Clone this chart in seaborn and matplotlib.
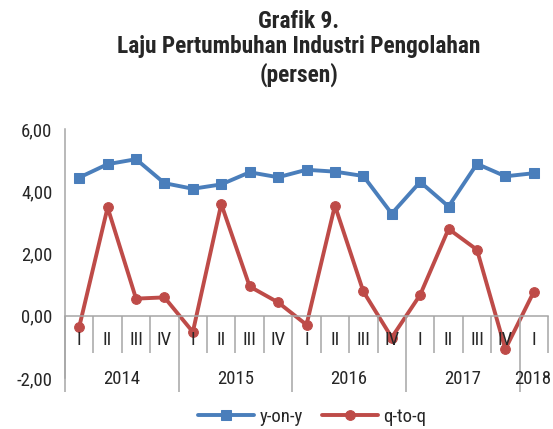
import numpy as np
import pandas as pd
import seaborn as sns
import matplotlib.pyplot as plt
from matplotlib import font_manager

# Data
quarters = ["I", "II", "III", "IV"] * 4 + ["I"]
years = ["2014", "2015", "2016", "2017", "2018"]
year_centers = [1.5, 5.5, 9.5, 13.5, 15.95]
yoy = [4.44, 4.87, 5.03, 4.26, 4.08, 4.22, 4.61, 4.45, 4.69, 4.63, 4.49, 3.28,
       4.30, 3.51, 4.88, 4.48, 4.58]
qtq = [-0.36, 3.48, 0.55, 0.59, -0.52, 3.59, 0.94, 0.43, -0.29, 3.54, 0.78, -0.70,
       0.67, 2.79, 2.12, -1.07, 0.77]

sns.set_style("white")
names = {f.name for f in font_manager.fontManager.ttflist}
narrow = [n for n in ["Liberation Sans Narrow", "Arial Narrow", "Roboto Condensed",
                      "Noto Sans Condensed", "Open Sans Condensed"] if n in names]
if narrow:
    fam, fs, fs_t = narrow[0], 13.5, 16.8
else:
    fam, fs, fs_t = "Liberation Sans", 12, 14
plt.rcParams["font.family"] = [fam, "DejaVu Sans"]

pos = np.arange(len(yoy))
df = pd.DataFrame({"pos": pos, "y-on-y": yoy, "q-to-q": qtq})

fig = plt.figure(figsize=(5.53, 4.29), dpi=100)
ax = fig.add_axes([65 / 553, 51 / 429, 483 / 553, 249 / 429])

blue = "#4A7EBB"
red = "#BE4B48"
sns.lineplot(data=df, x="pos", y="y-on-y", ax=ax, color=blue, lw=2.8,
             marker="s", markersize=7, markeredgecolor=blue, label="y-on-y")
sns.lineplot(data=df, x="pos", y="q-to-q", ax=ax, color=red, lw=2.8,
             marker="o", markersize=7, markeredgecolor=red, label="q-to-q")

ax.set_xlim(-0.5, 16.5)
ax.set_ylim(-2, 6)
ax.set_yticks([-2, 0, 2, 4, 6])
ax.set_yticklabels(["-2,00", "0,00", "2,00", "4,00", "6,00"], fontsize=fs, color="#262626")
ax.tick_params(axis="y", length=5, width=1.1, color="#A0A0A0", direction="out", pad=4)
ax.set_xticks([])
ax.set_xlabel("")
ax.set_ylabel("")

grey = "#A6A6A6"
for s in ["top", "right"]:
    ax.spines[s].set_visible(False)
ax.spines["bottom"].set_position(("data", 0))
ax.spines["bottom"].set_color(grey)
ax.spines["bottom"].set_linewidth(1.1)
ax.spines["left"].set_color(grey)
ax.spines["left"].set_linewidth(1.1)

# category grid lines
qlines = ax.vlines([k + 0.5 for k in range(16) if (k + 1) % 4 != 0] + [16.5], -1.19, 0,
                   colors=grey, lw=1.1)
qlines.set_clip_on(False)
ylines = ax.vlines([-0.5, 3.5, 7.5, 11.5, 15.5], -2.45, 0, colors=grey, lw=1.1)
ylines.set_clip_on(False)

for p, q in zip(pos, quarters):
    ax.text(p, -0.77, q, ha="center", va="center", fontsize=fs, color="#262626")
for c, y in zip(year_centers, years):
    ax.text(c, -2.03, y, ha="center", va="center", fontsize=fs, color="#262626")

ax.get_legend().remove()
h, l = ax.get_legend_handles_labels()
fig.legend(h, l, loc="center", bbox_to_anchor=(312 / 553, 12 / 429), ncol=2,
           frameon=False, fontsize=fs, handlelength=3.0, columnspacing=1.0,
           handletextpad=0.3)

fig.text(0.54, 1 - 22 / 429, "Grafik 9.", ha="center", va="center", fontsize=fs_t,
         fontweight="bold", color="#262626")
fig.text(0.54, 1 - 47 / 429, "Laju Pertumbuhan Industri Pengolahan", ha="center",
         va="center", fontsize=fs_t, fontweight="bold", color="#262626")
fig.text(0.54, 1 - 75 / 429, "(persen)", ha="center", va="center", fontsize=fs_t,
         fontweight="bold", color="#262626")

fig.savefig("out.png", dpi=100)
